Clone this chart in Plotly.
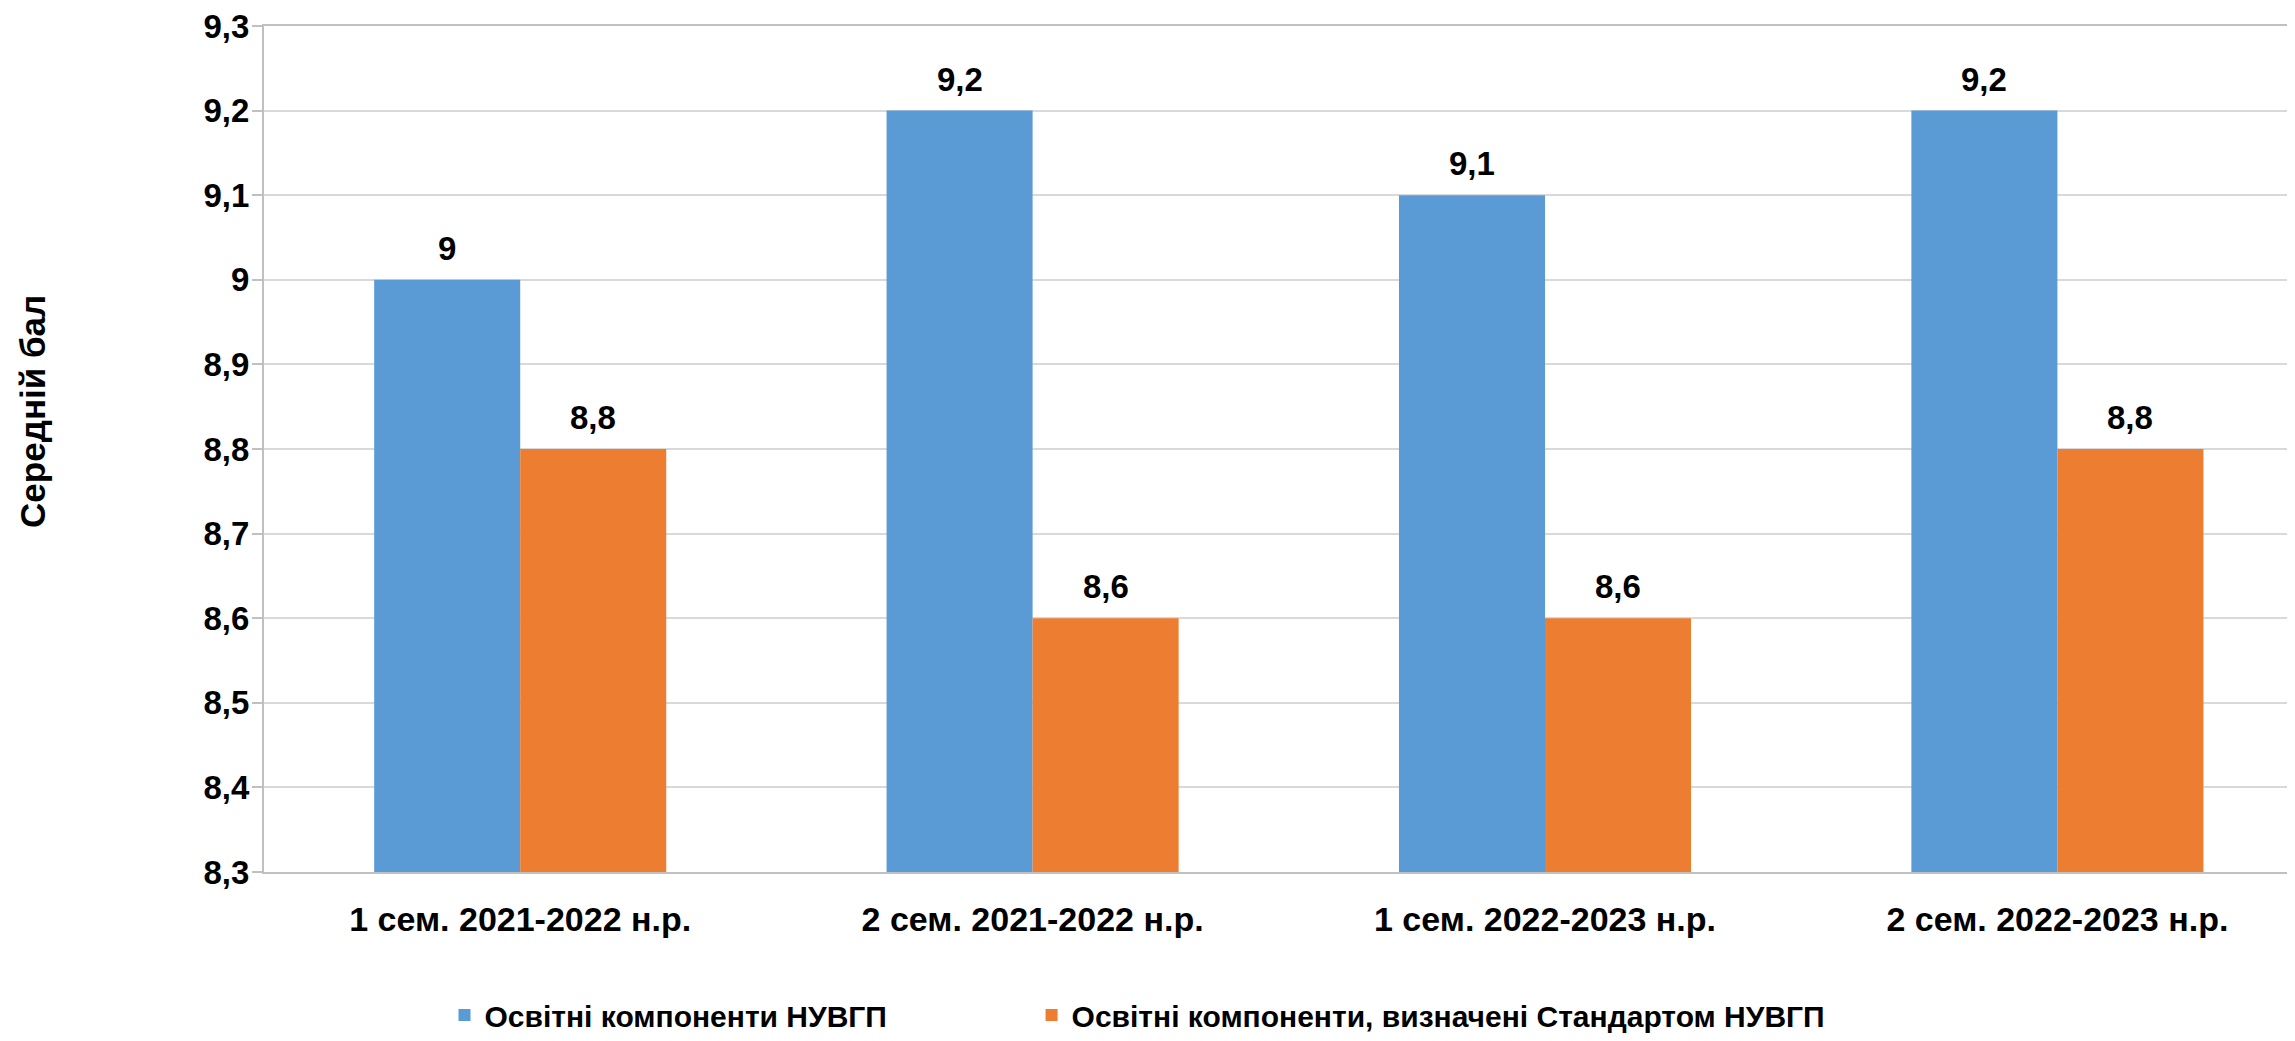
import plotly.graph_objects as go

categories = ["1 сем. 2021-2022 н.р.", "2 сем. 2021-2022 н.р.",
              "1 сем. 2022-2023 н.р.", "2 сем. 2022-2023 н.р."]
series_names = ["Освітні компоненти НУВГП",
                "Освітні компоненти, визначені Стандартом НУВГП"]
values_all = [9.0, 9.2, 9.1, 9.2]
values_std = [8.8, 8.6, 8.6, 8.8]
y_ticks = [8.3, 8.4, 8.5, 8.6, 8.7, 8.8, 8.9, 9.0, 9.1, 9.2, 9.3]
y_title = "Середній бал"

colors = ["#5B9BD5", "#ED7D31"]
FONT = "Liberation Sans, Arial, sans-serif"
W, H = 2295, 1041
bargap = 0.43
ML, MT, MB = 256, 18, 177
slot_px = 512.4
plot_w = W - ML

fig = go.Figure()
for name, vals, col, lg in zip(series_names, [values_all, values_std], colors,
                               ["legend", "legend2"]):
    fig.add_trace(go.Bar(x=categories, y=vals, name=name, marker_color=col,
                         marker_line_width=0, legend=lg))

def fmt(v):
    return ("%g" % v).replace(".", ",")

bw = (1 - bargap) / 2
for k, vals in enumerate([values_all, values_std]):
    off = (k - 0.5) * bw
    for i, v in enumerate(vals):
        fig.add_annotation(x=i + off, y=v, xref="x", yref="y", text=fmt(v),
                           showarrow=False, yanchor="bottom", yshift=11,
                           font=dict(family=FONT, size=33, color="black", weight="bold"))

fig.add_annotation(text=y_title, xref="paper", yref="paper", x=-0.1133, y=0.545,
                   xanchor="center", yanchor="middle", textangle=-90, showarrow=False,
                   font=dict(family=FONT, size=35, color="black", weight="bold"))

legend_common = dict(orientation="h", xref="container", yref="container",
                     y=0.0327, xanchor="left", yanchor="middle",
                     font=dict(family=FONT, size=30, color="black", weight="bold"),
                     itemwidth=30, bgcolor="rgba(0,0,0,0)")

fig.update_layout(
    width=W, height=H,
    margin=dict(l=ML, r=0, t=MT, b=MB, autoexpand=False),
    paper_bgcolor="white", plot_bgcolor="white",
    separators=", ",
    barmode="group", bargap=bargap, bargroupgap=0,
    font=dict(family=FONT, color="black", weight="bold"),
    showlegend=True,
    legend=dict(x=0.1902, **legend_common),
    legend2=dict(x=0.446, **legend_common),
)
fig.update_xaxes(type="category", range=[-0.5, -0.5 + plot_w / slot_px],
                 showline=True, linecolor="#c0c0c0", linewidth=2, mirror=True,
                 ticks="", showgrid=False,
                 tickfont=dict(family=FONT, size=34, color="black", weight="bold"),
                 ticklabelstandoff=16)
fig.update_yaxes(range=[8.3, 9.3], tickvals=y_ticks,
                 showline=True, linecolor="#c0c0c0", linewidth=2,
                 showgrid=True, gridcolor="#d9d9d9", gridwidth=2,
                 ticks="outside", ticklen=10, tickcolor="#c0c0c0", tickwidth=2,
                 tickfont=dict(family=FONT, size=33, color="black", weight="bold"),
                 ticklabelstandoff=-4, ticklabeloverflow="allow", zeroline=False)

fig.write_html("out.html")
